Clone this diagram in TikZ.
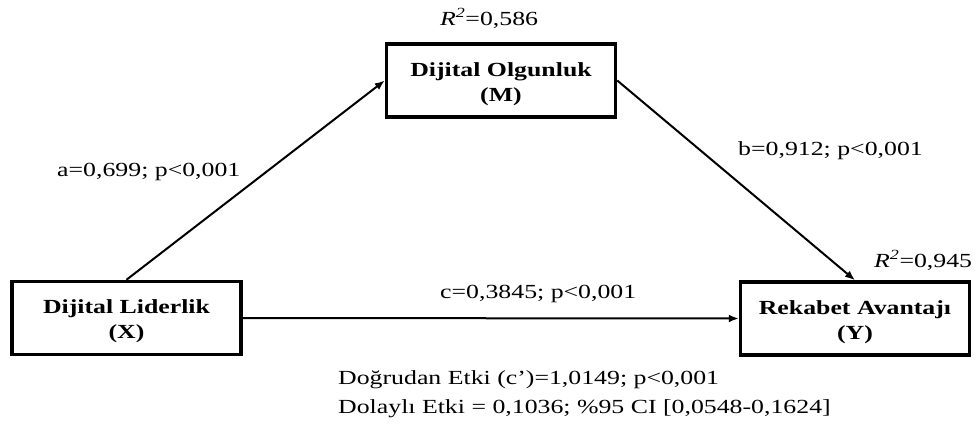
\documentclass[tikz,border=0pt]{standalone}
\usepackage{fontspec}
\setmainfont{Liberation Serif}[FakeStretch=1.29]
\usetikzlibrary{arrows.meta}
\begin{document}
\begin{tikzpicture}[x=1pt,y=-1pt,
  box/.style={draw,line width=3.5pt,minimum width=229pt,minimum height=73pt,inner sep=0pt},
  boxtext/.style={font=\bfseries,align=center,yshift=-3.3pt,inner sep=0pt},
  lbl/.style={anchor=base west,inner sep=0pt},
  arr/.style={line width=2pt,-{Latex[length=10pt,width=8pt]}}]
\fontsize{20}{25}\selectfont
\useasboundingbox (0,0) rectangle (979,423);
\node[box,label={[boxtext]center:Dijital Olgunluk\\(M)}] (M) at (501,80.5) {};
\node[box,label={[boxtext]center:Dijital Liderlik\\(X)}] (X) at (126.5,318) {};
\node[box,label={[boxtext]center:Rekabet Avantajı\\(Y)}] (Y) at (855,318.5) {};
\draw[arr] (X.north) -- (M.west);
\draw[arr] (M.east) -- (Y.north);
\draw[arr] (X.east) -- (Y.west);
\node[lbl] (r1) at (440,25) {\textit{R\textsuperscript{2}}=0,586};
\node[lbl] (r2) at (874,267) {\textit{R\textsuperscript{2}}=0,945};
\node[lbl] (la) at (57,176) {a=0,699; p<0,001};
\node[lbl] (lb) at (738,155) {b=0,912; p<0,001};
\node[lbl] (lc) at (440,298) {c=0,3845; p<0,001};
\node[lbl] (d1) at (338,384) {Doğrudan Etki (c’)=1,0149; p<0,001};
\node[lbl] (d2) at (338,413) {Dolaylı Etki = 0,1036; \%95 CI [0,0548-0,1624]};
\end{tikzpicture}
\end{document}
